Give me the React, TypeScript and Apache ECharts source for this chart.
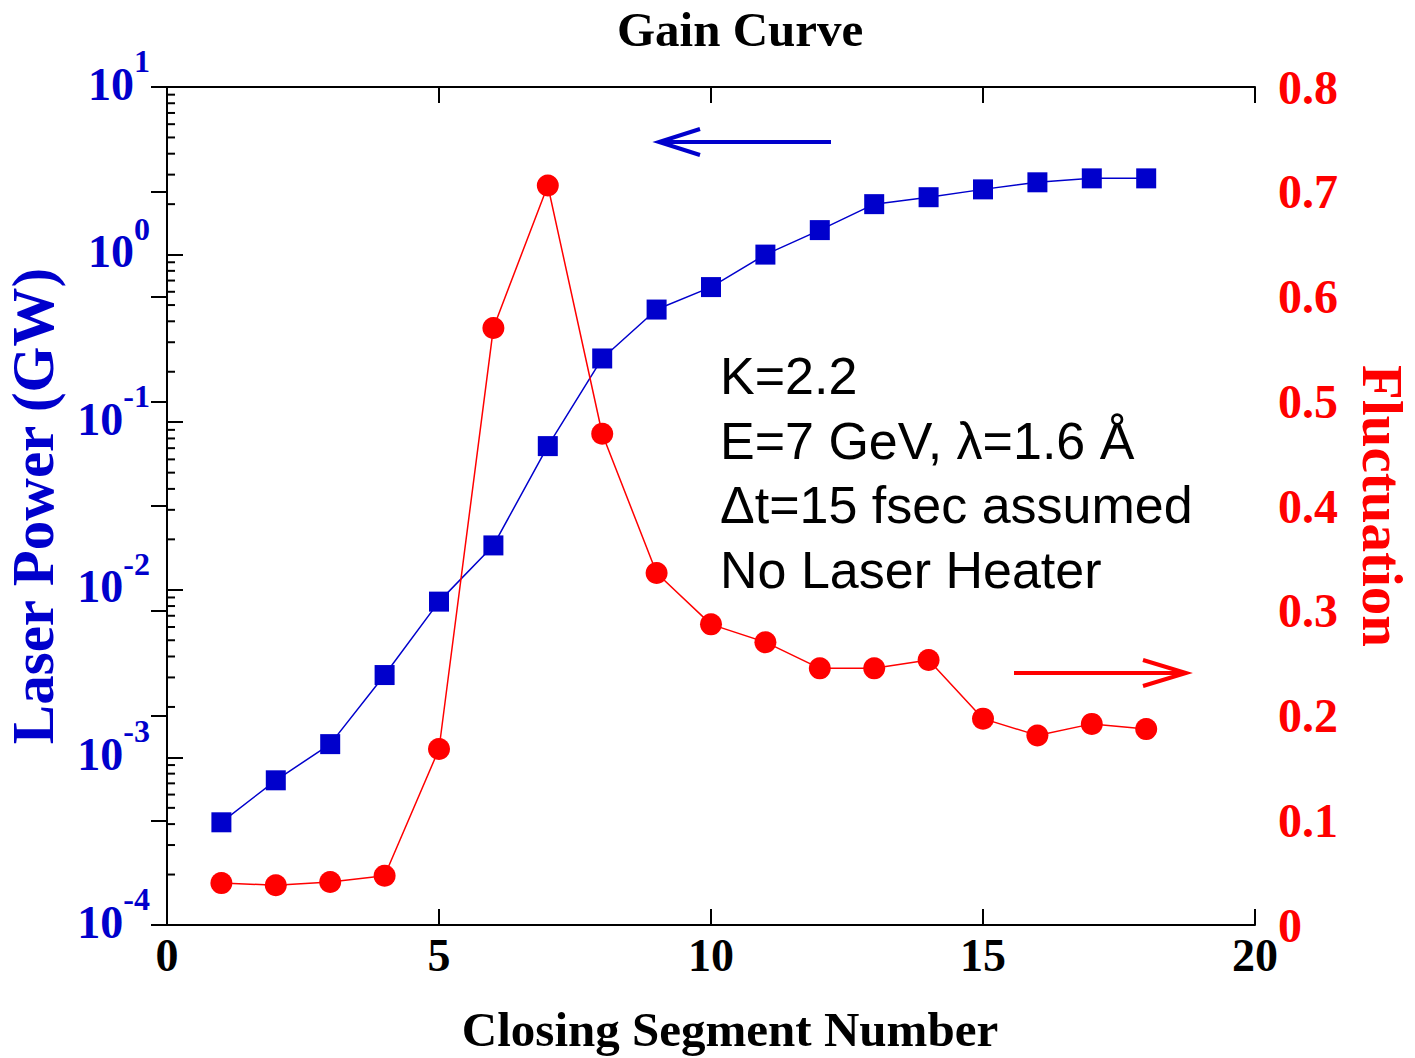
import React, { useEffect, useRef } from "react";
import * as echarts from "echarts";

const segments = [1, 2, 3, 4, 5, 6, 7, 8, 9, 10, 11, 12, 13, 14, 15, 16, 17, 18];
const laserPower = [4.1e-4, 7.3e-4, 1.2e-3, 3.1e-3, 8.5e-3, 0.0184, 0.072, 0.24, 0.47, 0.64, 1.0, 1.4, 2.0, 2.2, 2.45, 2.7, 2.85, 2.85];
const fluctuation = [0.04, 0.038, 0.041, 0.047, 0.168, 0.57, 0.706, 0.469, 0.336, 0.287, 0.27, 0.245, 0.245, 0.253, 0.197, 0.181, 0.192, 0.187];
const minorMantissas = [2, 3, 4, 5, 6, 7, 8, 9];
const decadeExponents = [-4, -3, -2, -1, 0];
const annotationLines = ["K=2.2", "E=7 GeV, λ=1.6 Å", "Δt=15 fsec assumed", "No Laser Heater"];

const BLUE = "#0000cc";
const RED = "#ff0000";
const SERIF = "'Liberation Serif', 'Times New Roman', serif";
const SANS = "'Liberation Sans', Arial, sans-serif";

export default function App() {
  const ref = useRef<HTMLDivElement>(null);
  useEffect(() => {
    if (!ref.current) return;
    const chart = echarts.init(ref.current, null, { renderer: "svg" });
    const minorTicks: number[][] = [];
    decadeExponents.forEach((e) => minorMantissas.forEach((m) => minorTicks.push([0, m * Math.pow(10, e)])));

    chart.setOption({
      animation: false,
      backgroundColor: "#ffffff",
      title: {
        text: "Gain Curve",
        left: 612,
        top: 0,
        textStyle: { fontFamily: SERIF, fontWeight: "bold", fontSize: 49, color: "#000" },
      },
      grid: { left: 167, top: 87, right: 160, bottom: 133, outerBoundsMode: "none", containLabel: false },
      xAxis: [
        {
          type: "value",
          min: 0,
          max: 20,
          interval: 5,
          position: "bottom",
          name: "Closing Segment Number",
          nameLocation: "middle",
          nameGap: 80,
          nameTextStyle: { fontFamily: SERIF, fontWeight: "bold", fontSize: 49, color: "#000", padding: [0, 0, 0, 38] },
          axisLine: { show: true, lineStyle: { color: "#000", width: 2 } },
          axisTick: { show: true, inside: true, length: 16, lineStyle: { color: "#000", width: 2 } },
          axisLabel: { margin: 7, fontFamily: SERIF, fontWeight: "bold", fontSize: 46, color: "#000" },
          splitLine: { show: false },
        },
        {
          type: "value",
          min: 0,
          max: 20,
          interval: 5,
          position: "top",
          axisLine: { show: true, lineStyle: { color: "#000", width: 2 } },
          axisTick: { show: true, inside: true, length: 16, lineStyle: { color: "#000", width: 2 } },
          axisLabel: { show: false },
          splitLine: { show: false },
        },
      ],
      yAxis: [
        {
          type: "log",
          logBase: 10,
          min: 1e-4,
          max: 10,
          position: "left",
          name: "Laser Power (GW)",
          nameLocation: "middle",
          nameGap: 105,
          nameRotate: 90,
          nameTextStyle: { fontFamily: SERIF, fontWeight: "bold", fontSize: 59, color: BLUE },
          axisLine: { show: true, lineStyle: { color: "#000", width: 2 } },
          axisTick: { show: true, inside: true, length: 16, lineStyle: { color: "#000", width: 2 } },
          axisLabel: {
            margin: 17,
            formatter: (v: number) => `{b|10}{s|${Math.round(Math.log10(v))}}`,
            rich: {
              b: { fontFamily: SERIF, fontWeight: "bold", fontSize: 46, color: BLUE, verticalAlign: "bottom", padding: [0, 0, 22, 0] },
              s: { fontFamily: SERIF, fontWeight: "bold", fontSize: 32, color: BLUE, verticalAlign: "bottom", padding: [0, 0, 52, 0] },
            },
          },
          splitLine: { show: false },
        },
        {
          type: "value",
          min: 0,
          max: 0.8,
          interval: 0.1,
          position: "right",
          name: "Fluctuation",
          nameLocation: "middle",
          nameGap: 99,
          nameRotate: -90,
          nameTextStyle: { fontFamily: SERIF, fontWeight: "bold", fontSize: 57, color: RED },
          axisLine: { show: true, lineStyle: { color: "#000", width: 2 } },
          axisTick: { show: true, inside: true, length: 16, lineStyle: { color: "#000", width: 2 } },
          axisLabel: {
            margin: 23,
            formatter: (v: number) => (v === 0 ? "0" : v.toFixed(1)),
            fontFamily: SERIF,
            fontWeight: "bold",
            fontSize: 48,
            color: RED,
            padding: [0, 0, 10, 0],
          },
          splitLine: { show: false },
        },
      ],
      series: [
        {
          type: "custom",
          xAxisIndex: 0,
          yAxisIndex: 0,
          silent: true,
          data: minorTicks,
          renderItem: (params: any, api: any) => {
            const p = api.coord([api.value(0), api.value(1)]);
            return {
              type: "line",
              shape: { x1: p[0], y1: p[1], x2: p[0] + 8, y2: p[1] },
              style: { stroke: "#000", lineWidth: 2 },
            };
          },
        },
        {
          name: "Laser Power",
          type: "line",
          xAxisIndex: 0,
          yAxisIndex: 0,
          data: segments.map((s, i) => [s, laserPower[i]]),
          symbol: "rect",
          symbolSize: 20,
          lineStyle: { color: BLUE, width: 1.5 },
          itemStyle: { color: BLUE },
          z: 3,
        },
        {
          name: "Fluctuation",
          type: "line",
          xAxisIndex: 0,
          yAxisIndex: 1,
          data: segments.map((s, i) => [s, fluctuation[i]]),
          symbol: "circle",
          symbolSize: 22,
          lineStyle: { color: RED, width: 1.5 },
          itemStyle: { color: RED },
          z: 4,
        },
      ],
      graphic: [
        {
          type: "text",
          left: 720,
          top: 344,
          style: {
            text: annotationLines.join("\n"),
            fontFamily: SANS,
            fontSize: 52,
            lineHeight: 64.5,
            fill: "#000",
          },
        },
        { type: "line", shape: { x1: 660, y1: 142, x2: 831, y2: 142 }, style: { stroke: BLUE, lineWidth: 4 } },
        { type: "polyline", shape: { points: [[700, 129], [659, 142], [700, 155]] }, style: { stroke: BLUE, lineWidth: 4, fill: null } },
        { type: "line", shape: { x1: 1014, y1: 673, x2: 1184, y2: 673 }, style: { stroke: RED, lineWidth: 4 } },
        { type: "polyline", shape: { points: [[1143, 660], [1186, 673], [1143, 686]] }, style: { stroke: RED, lineWidth: 4, fill: null } },
      ],
    });
    return () => chart.dispose();
  }, []);
  return <div ref={ref} style={{ position: "fixed", left: 0, top: 0, width: 1415, height: 1058 }} />;
}
